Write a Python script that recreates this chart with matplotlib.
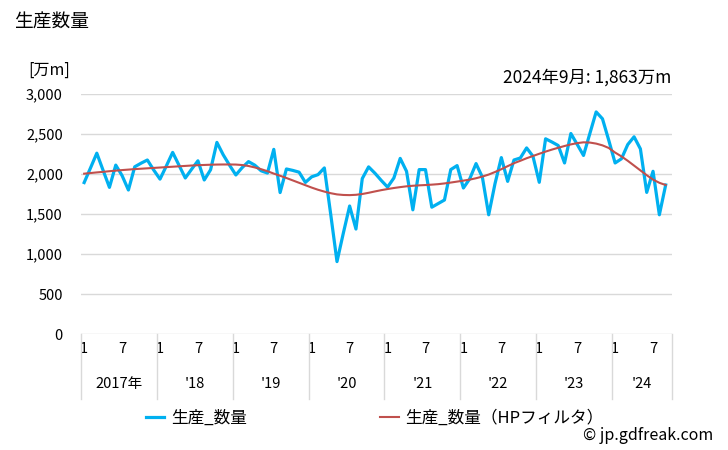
import matplotlib
matplotlib.use("Agg")
import matplotlib.pyplot as plt
import matplotlib.transforms as mtransforms

plt.rcParams['font.family'] = ['Noto Sans CJK JP', 'DejaVu Sans']

# monthly production, 2017-01 .. 2024-09 (万m)
y2017 = [1893, 2075, 2260, 2045, 1833, 2111, 1980, 1800, 2090, 2135, 2175, 2050]
y2018 = [1936, 2100, 2270, 2110, 1950, 2060, 2165, 1925, 2053, 2395, 2240, 2110]
y2019 = [1988, 2080, 2155, 2110, 2040, 2012, 2308, 1768, 2063, 2045, 2023, 1895]
y2020 = [1965, 1992, 2076, 1500, 905, 1260, 1600, 1312, 1943, 2089, 2010, 1920]
y2021 = [1836, 1950, 2195, 2034, 1552, 2055, 2055, 1585, 1630, 1675, 2055, 2105]
y2022 = [1825, 1940, 2130, 1960, 1490, 1880, 2205, 1908, 2175, 2200, 2326, 2222]
y2023 = [1896, 2440, 2400, 2356, 2138, 2506, 2370, 2232, 2505, 2776, 2690, 2420]
y2024 = [2138, 2190, 2368, 2465, 2314, 1770, 2034, 1490, 1863]

# HP filter trend
t2017 = [2004, 2012, 2020, 2027, 2035, 2042, 2049, 2055, 2061, 2066, 2071, 2076]
t2018 = [2081, 2086, 2091, 2096, 2101, 2106, 2110, 2113, 2116, 2118, 2119, 2119]
t2019 = [2118, 2112, 2100, 2082, 2060, 2035, 2005, 1978, 1950, 1920, 1890, 1860]
t2020 = [1830, 1803, 1780, 1760, 1745, 1738, 1736, 1740, 1750, 1765, 1782, 1798]
t2021 = [1812, 1825, 1836, 1846, 1853, 1858, 1862, 1867, 1873, 1882, 1893, 1905]
t2022 = [1917, 1930, 1947, 1968, 1993, 2025, 2060, 2098, 2135, 2165, 2197, 2225]
t2023 = [2253, 2280, 2305, 2328, 2350, 2370, 2386, 2396, 2393, 2380, 2358, 2325]
t2024 = [2268, 2220, 2165, 2105, 2045, 1985, 1930, 1890, 1862]

years = ["2017年", "'18", "'19", "'20", "'21", "'22", "'23", "'24"]
yticks = [0, 500, 1000, 1500, 2000, 2500, 3000]

values = y2017 + y2018 + y2019 + y2020 + y2021 + y2022 + y2023 + y2024
trend = t2017 + t2018 + t2019 + t2020 + t2021 + t2022 + t2023 + t2024
x = list(range(len(values)))

fig = plt.figure(figsize=(7.28, 4.5), dpi=100)
ax = fig.add_axes([81 / 728, 1 - 334 / 450, (672 - 81) / 728, 240 / 450])

blue = "#00b0f0"
red = "#c0504d"
l1, = ax.plot(x, values, color=blue, lw=2.3, label="生産_数量", zorder=3)
l2, = ax.plot(x, trend, color=red, lw=1.5, label="生産_数量（HPフィルタ）", zorder=4)

ax.set_ylim(0, 3000)
ax.set_xlim(-0.5, 93)
ax.set_yticks(yticks)
ax.set_yticklabels([f"{v:,}" for v in yticks], fontsize=10.5)
ax.grid(axis="y", color="#d9d9d9", lw=1)
ax.set_axisbelow(True)
for s in ax.spines.values():
    s.set_visible(False)
ax.tick_params(axis="y", length=0, pad=13)

# month ticks "1" and "7"
mpos = []
mlab = []
for k in range(len(years)):
    mpos.append(12 * k)
    mlab.append("1")
    if 12 * k + 6 < len(values):
        mpos.append(12 * k + 6)
        mlab.append("7")
ax.set_xticks(mpos)
ax.set_xticklabels(mlab, fontsize=10.5)
ax.tick_params(axis="x", length=0, pad=6)

trans = mtransforms.blended_transform_factory(ax.transData, ax.transAxes)
seps = [-0.5 + 12 * k for k in range(len(years))] + [93]
for s in seps:
    ax.plot([s, s], [0, -0.27], color="#d9d9d9", lw=1, transform=trans, clip_on=False)
for k, lab in enumerate(years):
    left = seps[k]
    right = seps[k + 1]
    ax.text((left + right) / 2, -0.21, lab, transform=trans, ha="center", va="center", fontsize=10.5)

fig.text(14 / 728, 1 - 22 / 450, "生産数量", fontsize=13.5, va="center", ha="left")
fig.text(28 / 728, 1 - 70 / 450, "[万m]", fontsize=11.5, va="center", ha="left")
fig.text(671 / 728, 1 - 78 / 450, "2024年9月: 1,863万m", fontsize=12.5, va="center", ha="right")
fig.text(713 / 728, 1 - 436 / 450, "© jp.gdfreak.com", fontsize=11.5, va="center", ha="right")

fig.legend(handles=[l1, l2], loc="center left", bbox_to_anchor=(131 / 728, 1 - 418 / 450),
           ncol=2, frameon=False, fontsize=12, handlelength=1.1, handletextpad=0.4,
           columnspacing=8.0)

fig.savefig("out.png", dpi=100)
